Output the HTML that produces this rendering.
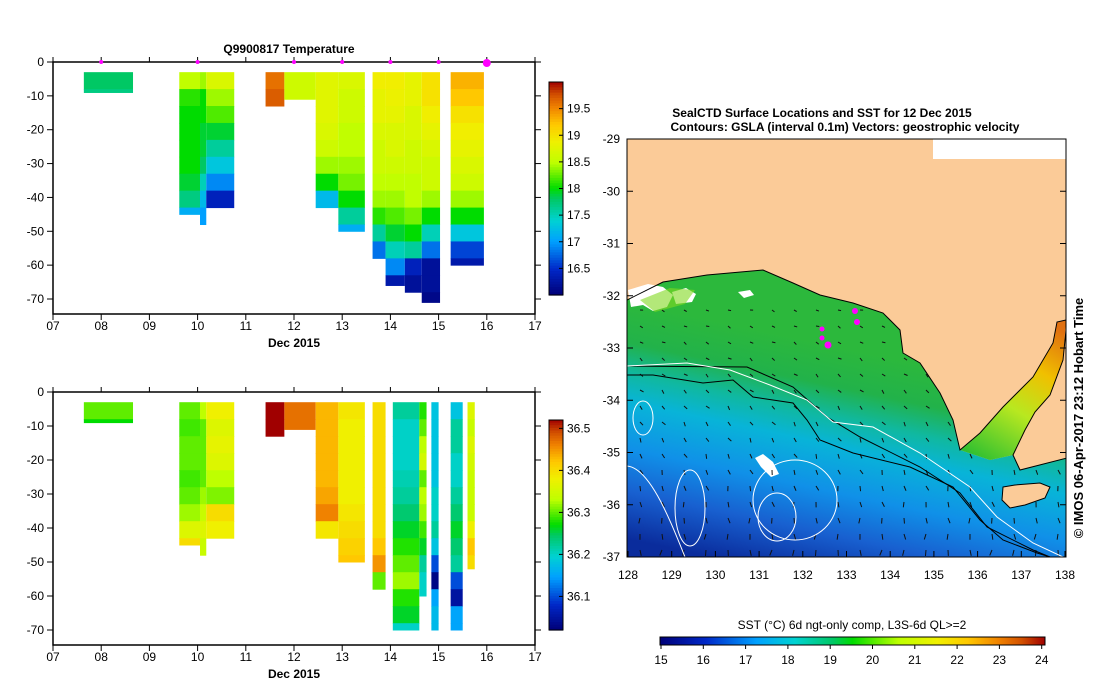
<!DOCTYPE html>
<html><head><meta charset="utf-8"><style>
body{margin:0;background:#fff;}
svg{display:block;font-family:"Liberation Sans",sans-serif;}
</style></head><body>
<svg id="s" width="1099" height="700" viewBox="0 0 1099 700" xmlns="http://www.w3.org/2000/svg">
<defs>
<linearGradient id="ocean" gradientUnits="userSpaceOnUse" x1="760" y1="330" x2="712" y2="557">
<stop offset="0" stop-color="#2cb83c"/><stop offset="0.17" stop-color="#22b24a"/>
<stop offset="0.3" stop-color="#10b8a0"/><stop offset="0.42" stop-color="#08b4d8"/>
<stop offset="0.62" stop-color="#1090e8"/><stop offset="0.8" stop-color="#1860d0"/>
<stop offset="1" stop-color="#0a2c9c"/></linearGradient>
<linearGradient id="gulf" gradientUnits="userSpaceOnUse" x1="980" y1="460" x2="1060" y2="330">
<stop offset="0" stop-color="#30c030"/><stop offset="0.4" stop-color="#b8e820"/>
<stop offset="0.7" stop-color="#f0c000"/><stop offset="1" stop-color="#e07010"/></linearGradient>
<linearGradient id="sstbar" x1="0" y1="0" x2="1" y2="0">
<stop offset="0" stop-color="#000078"/><stop offset="0.12" stop-color="#0028c8"/>
<stop offset="0.25" stop-color="#00a0ff"/><stop offset="0.35" stop-color="#00d2d2"/>
<stop offset="0.45" stop-color="#00c864"/><stop offset="0.5" stop-color="#00dc00"/>
<stop offset="0.62" stop-color="#beff00"/><stop offset="0.72" stop-color="#f0f000"/>
<stop offset="0.8" stop-color="#ffc800"/><stop offset="0.88" stop-color="#f08200"/>
<stop offset="0.94" stop-color="#d25000"/><stop offset="1" stop-color="#a00000"/></linearGradient>
<clipPath id="mapclip"><rect x="627" y="139" width="439" height="418"/></clipPath>
<clipPath id="oceanclip"><polygon points="627,300 663,282 707,275 763,270 793,283 820,295 853,303 883,313 900,330 903,353 920,363 940,393 953,420 960,450 990,460 1013,455 1020,470 1067,458 1067,557 627,557"/></clipPath>
</defs>
<g id="plots"></g>
<g id="map" clip-path="url(#mapclip)">
<rect x="627" y="139" width="439" height="418" fill="#fbcb98"/>
<polygon fill="url(#ocean)" points="627,300 663,282 707,275 763,270 793,283 820,295 853,303 883,313 900,330 903,353 920,363 940,393 953,420 960,450 990,460 1013,455 1020,470 1067,458 1067,557 627,557"/>
<polygon fill="url(#gulf)" points="960,450 980,433 1003,407 1033,377 1053,343 1057,322 1066,320 1063,360 1050,395 1035,412 1025,430 1013,455 990,460"/>
<path d="M628,290 l20,-6 l15,3 l10,8 l-6,12 l-14,4 l-10,-6 l-12,2z M672,292 l14,-4 l10,6 l-4,8 l-16,2z M738,292 l12,-2 l4,5 l-10,3z M755,458 l8,-4 l10,8 l6,12 l-8,3 l-10,-10z" fill="#fff"/>
<path d="M640,300 l30,-12 l25,2 l-10,14 l-30,8z" fill="#80d820" opacity="0.6"/>
<rect x="933" y="139" width="134" height="20" fill="#fff"/>
<g id="vectors" clip-path="url(#oceanclip)"></g>
<polygon fill="#fbcb98" stroke="#000" stroke-width="1" points="1003,487 1015,485 1040,483 1050,487 1045,498 1025,505 1010,508 1002,500"/>
<polyline fill="none" stroke="#000" stroke-width="1" points="627,300 663,282 707,275 763,270 793,283 820,295 853,303 883,313 900,330 903,353 920,363 940,393 953,420 960,450 980,433 1003,407 1033,377 1053,343 1057,322 1066,320"/>
<polyline fill="none" stroke="#000" stroke-width="1" points="1066,330 1063,360 1050,395 1035,412 1025,430 1013,455 1020,470 1067,458"/>
<polyline fill="none" stroke="#000" points="627,366 747,367 793,387 827,417 860,437 920,467 960,493 987,527 1033,550 1050,557"/>
<polyline fill="none" stroke="#000" points="627,375 653,375 703,383 733,380 753,397 793,403 807,420 820,440 853,453 910,467 953,487 980,520 1003,540 1037,553 1050,557"/>
<polyline fill="none" stroke="#fff" points="627,366 687,363 730,370 770,385 807,400 833,422 873,427 920,453 970,487 997,517 1033,543 1063,557"/>
<ellipse cx="643" cy="418" rx="10" ry="17" fill="none" stroke="#fff"/>
<ellipse cx="777" cy="517" rx="19" ry="24" fill="none" stroke="#fff"/>
<ellipse cx="795" cy="500" rx="42" ry="40" fill="none" stroke="#fff"/>
<ellipse cx="690" cy="508" rx="15" ry="38" fill="none" stroke="#fff"/>
<path d="M627,466 C650,468 670,520 685,557" fill="none" stroke="#fff"/>
<g fill="#ff00ff">
<circle cx="855" cy="311" r="3"/><circle cx="857" cy="322" r="3"/><circle cx="822" cy="329" r="2.5"/><circle cx="822" cy="338" r="2.5"/><circle cx="828" cy="345" r="3.5"/>
</g>
</g>
<rect x="627" y="139" width="439" height="418" fill="none" stroke="#000"/>
<text x="822" y="117" text-anchor="middle" font-size="12" font-weight="bold">SealCTD Surface Locations and SST for 12 Dec 2015</text>
<text x="845" y="131" text-anchor="middle" font-size="12" font-weight="bold">Contours: GSLA (interval 0.1m) Vectors: geostrophic velocity</text>
<text transform="translate(1083,418) rotate(-90)" text-anchor="middle" font-size="13" font-weight="bold">© IMOS 06-Apr-2017 23:12 Hobart Time</text>
<text x="852" y="629" text-anchor="middle" font-size="12">SST (°C) 6d ngt-only comp, L3S-6d QL&gt;=2</text>
<rect x="660" y="637" width="385" height="8" fill="url(#sstbar)" stroke="#000"/>
</svg>
<script>
// ---------- data ----------
const dayTicks = ["07","08","09","10","11","12","13","14","15","16","17"];
const depthTicks = [0,-10,-20,-30,-40,-50,-60,-70];
const castDays = [8,10,12,13,14,15,16];
const tempStart = [7.64,9.62,10.05,10.18,11.41,11.8,12.45,12.92,13.63,13.9,14.3,14.65,15.25];
const tempEnd   = [8.66,10.05,10.18,10.76,11.8,12.45,12.92,13.47,13.9,14.3,14.65,15.03,15.94];
const tempMaxDepth = [9,45,48,43,13,11,43,50,58,66,68,71,60];
const tempProfiles = [
 [17.8,17.7],
 [18.5,18.1,18.0,18.0,18.0,18.0,17.9,17.7,17.1],
 [18.4,18.0,18.0,17.9,17.9,17.8,17.5,17.2,17.0,16.9],
 [18.7,18.4,18.2,17.9,17.6,17.3,16.9,16.4],
 [19.6,19.7],
 [18.6,18.6],
 [18.75,18.75,18.75,18.7,18.6,18.4,18.0,17.2,16.4],
 [18.7,18.6,18.6,18.5,18.5,18.4,18.3,18.0,17.6,17.1],
 [18.9,18.8,18.8,18.7,18.6,18.6,18.5,18.4,18.1,17.6,16.8,16.3],
 [18.9,18.85,18.8,18.7,18.7,18.6,18.5,18.4,18.2,17.9,17.5,16.9,16.3,16.2],
 [18.8,18.8,18.7,18.7,18.6,18.6,18.5,18.5,18.3,18.0,17.6,16.4,16.2,16.2],
 [19.0,19.0,18.9,18.8,18.7,18.6,18.6,18.4,18.0,17.5,16.8,16.2,16.2,16.1],
 [19.3,19.2,19.0,18.9,18.8,18.7,18.6,18.4,18.0,17.3,16.6,16.3]
];
const tempTicks = [16.5,17,17.5,18,18.5,19,19.5];
const salStart = [7.64,9.62,10.05,10.18,11.41,11.8,12.45,12.92,13.63,14.05,14.6,14.85,15.25,15.6];
const salEnd   = [8.66,10.05,10.18,10.76,11.8,12.45,12.92,13.47,13.9,14.6,14.75,15.0,15.5,15.75];
const salMaxDepth = [9,45,48,43,13,11,43,50,58,70,60,70,70,52];
const salProfiles = [
 [36.30,36.27],
 [36.30,36.29,36.30,36.30,36.29,36.30,36.32,36.36,36.40],
 [36.33,36.30,36.30,36.30,36.30,36.32,36.34,36.36,36.34,36.33],
 [36.38,36.36,36.37,36.36,36.33,36.31,36.40,36.38],
 [36.52,36.52],
 [36.47,36.47],
 [36.43,36.43,36.43,36.43,36.43,36.44,36.46,36.39,36.39],
 [36.39,36.38,36.38,36.38,36.38,36.38,36.39,36.40,36.41,36.42],
 [36.40,36.40,36.40,36.40,36.40,36.40,36.40,36.40,36.42,36.45,36.30,36.24],
 [36.22,36.20,36.20,36.20,36.21,36.22,36.24,36.26,36.28,36.30,36.32,36.28,36.26,36.20],
 [36.28,36.30,36.33,36.35,36.30,36.33,36.32,36.29,36.26,36.22,36.20,36.20],
 [36.18,36.18,36.18,36.18,36.18,36.20,36.20,36.22,36.18,36.10,36.03,36.15,36.17,36.17],
 [36.18,36.22,36.22,36.20,36.20,36.22,36.24,36.26,36.24,36.22,36.10,36.05,36.15,36.15],
 [36.36,36.34,36.36,36.35,36.34,36.34,36.34,36.38,36.42,36.40]
];
const salTicks = [36.1,36.2,36.3,36.4,36.5];
const sstTicks = [15,16,17,18,19,20,21,22,23,24];
const latTicks = [-29,-30,-31,-32,-33,-34,-35,-36,-37];
const lonTicks = [128,129,130,131,132,133,134,135,136,137,138];

// ---------- helpers ----------
const NS="http://www.w3.org/2000/svg";
const root=document.getElementById('plots');
function mk(tag,attrs,parent){const e=document.createElementNS(NS,tag);for(const k in attrs)e.setAttribute(k,attrs[k]);(parent||root).appendChild(e);return e;}
const stops=[[0,[0,0,120]],[0.12,[0,40,200]],[0.25,[0,160,255]],[0.35,[0,210,210]],[0.45,[0,200,100]],[0.5,[0,220,0]],[0.62,[190,255,0]],[0.72,[240,240,0]],[0.8,[255,200,0]],[0.88,[240,130,0]],[0.94,[210,80,0]],[1,[160,0,0]]];
function cmap(f){f=Math.max(0,Math.min(1,f));for(let i=1;i<stops.length;i++){if(f<=stops[i][0]){const a=stops[i-1],b=stops[i];const t=(f-a[0])/(b[0]-a[0]);const c=a[1].map((v,j)=>Math.round(v+(b[1][j]-v)*t));return `rgb(${c})`;}}return 'rgb(160,0,0)';}

function panel(cfg){
  const {top,bottom,left,right,vmin,vmax,starts,ends,maxD,profiles,ticks,cbTop,cbBot,name,title}=cfg;
  const g=mk('g',{});
  
  
  const X=d=>left+(d-7)*(right-left)/10;
  const Y=z=>top+z*(cfg.y70-top)/70;
  profiles.forEach((p,i)=>{
    p.forEach((v,k)=>{
      const z0=3+5*k, z1=Math.min(8+5*k,maxD[i]);
      if(z1<=z0)return;
      const r=mk('rect',{x:X(starts[i]),y:Y(z0),width:X(ends[i])-X(starts[i]),height:Y(z1)-Y(z0)+0.5,fill:cmap((v-vmin)/(vmax-vmin))},g);
      
      
    });
  });
  const fr=mk('rect',{x:left,y:top,width:right-left,height:bottom-top,fill:'none',stroke:'#000','stroke-width':1.5},g);
  
  
  dayTicks.forEach((t,i)=>{
    const x=X(7+i);
    mk('line',{x1:x,y1:bottom,x2:x,y2:bottom+6,stroke:'#000'},g);
    mk('line',{x1:x,y1:top,x2:x,y2:top-5,stroke:'#000'},g);
    const tx=mk('text',{x:x,y:bottom+16,'text-anchor':'middle','font-size':12},g);
    tx.textContent=t;
    
    
  });
  depthTicks.forEach(t=>{
    const y=Y(-t);
    mk('line',{x1:left-6,y1:y,x2:left,y2:y,stroke:'#000'},g);
    mk('line',{x1:right,y1:y,x2:right+6,y2:y,stroke:'#000'},g);
    const tx=mk('text',{x:left-9,y:y+4,'text-anchor':'end','font-size':12},g);
    tx.textContent=t;
    
    
  });
  const xl=mk('text',{x:(left+right)/2,y:bottom+33,'text-anchor':'middle','font-size':12,'font-weight':'bold'},g);
  xl.textContent='Dec 2015';
  
  
  if(title){
    const tt=mk('text',{x:(left+right)/2-5,y:top-9,'text-anchor':'middle','font-size':12,'font-weight':'bold'},g);
    tt.textContent=title;
    
    
    castDays.forEach((d,i)=>{
      const c=mk('circle',{cx:X(d),cy:top+(i==castDays.length-1?1:0),r:i==castDays.length-1?4:2,fill:'#ff00ff'},g);
      
      
    });
  }
  const cbx=549,cbw=14,n=80;
  const cv=y=>vmax-(y-cbTop)/(cbBot-cbTop)*(vmax-vmin);
  for(let i=0;i<n;i++){
    const y0=cbTop+(cbBot-cbTop)*i/n;
    mk('rect',{x:cbx,y:y0,width:cbw,height:(cbBot-cbTop)/n+0.6,fill:cmap((cv(y0+(cbBot-cbTop)/n/2)-vmin)/(vmax-vmin))},g);
  }
  const cb=mk('rect',{x:cbx,y:cbTop,width:cbw,height:cbBot-cbTop,fill:'none',stroke:'#000'},g);
  
  
  ticks.forEach(t=>{
    const y=cbTop+(vmax-t)/(vmax-vmin)*(cbBot-cbTop);
    mk('line',{x1:cbx+cbw-4,y1:y,x2:cbx+cbw,y2:y,stroke:'#000'},g);
    const tx=mk('text',{x:cbx+cbw+4,y:y+4,'font-size':12},g);
    tx.textContent=t;
    
    
  });
}
panel({top:62,bottom:314,left:53,right:535,y70:299,vmin:16.0,vmax:20.0,starts:tempStart,ends:tempEnd,maxD:tempMaxDepth,profiles:tempProfiles,ticks:tempTicks,cbTop:82,cbBot:295,name:'temperature-section',title:'Q9900817  Temperature'});
panel({top:392,bottom:645,left:53,right:535,y70:630,vmin:36.02,vmax:36.52,starts:salStart,ends:salEnd,maxD:salMaxDepth,profiles:salProfiles,ticks:salTicks,cbTop:420,cbBot:630,name:'salinity-section',title:null});

const svg=document.getElementById('s');
const LX=lon=>628+(lon-128)*43.7, LY=lat=>139+(-29-lat)*52.25;
latTicks.forEach(t=>{
  const y=LY(t);
  mk('line',{x1:627,y1:y,x2:633,y2:y,stroke:'#000'},svg);
  mk('line',{x1:1060,y1:y,x2:1066,y2:y,stroke:'#000'},svg);
  const tx=mk('text',{x:620,y:y+4,'text-anchor':'end','font-size':12},svg);
  tx.textContent=t;
  
  
});
lonTicks.forEach(t=>{
  const x=LX(t);
  mk('line',{x1:x,y1:557,x2:x,y2:551,stroke:'#000'},svg);
  const tx=mk('text',{x:x,y:579,'text-anchor':'middle','font-size':12},svg);
  tx.textContent=t;
  
  
});
sstTicks.forEach(t=>{
  const x=661+(t-15)*42.3;
  mk('line',{x1:x,y1:645,x2:x,y2:649,stroke:'#000'},svg);
  const tx=mk('text',{x:x,y:664,'text-anchor':'middle','font-size':12},svg);
  tx.textContent=t;
  
  
});
const vg=document.getElementById('vectors');
for(let y=310;y<557;y+=16){for(let x=640;x<1060;x+=22){
  const south=(y-300)/257;
  const a=(south*1.4)+((x*7+y*3)%5)*0.15;
  const l=3+south*3;
  mk('line',{x1:x,y1:y,x2:x+Math.cos(a)*l,y2:y+Math.sin(a)*l,stroke:'#111','stroke-width':1},vg);
}}
</script>
</body></html>
